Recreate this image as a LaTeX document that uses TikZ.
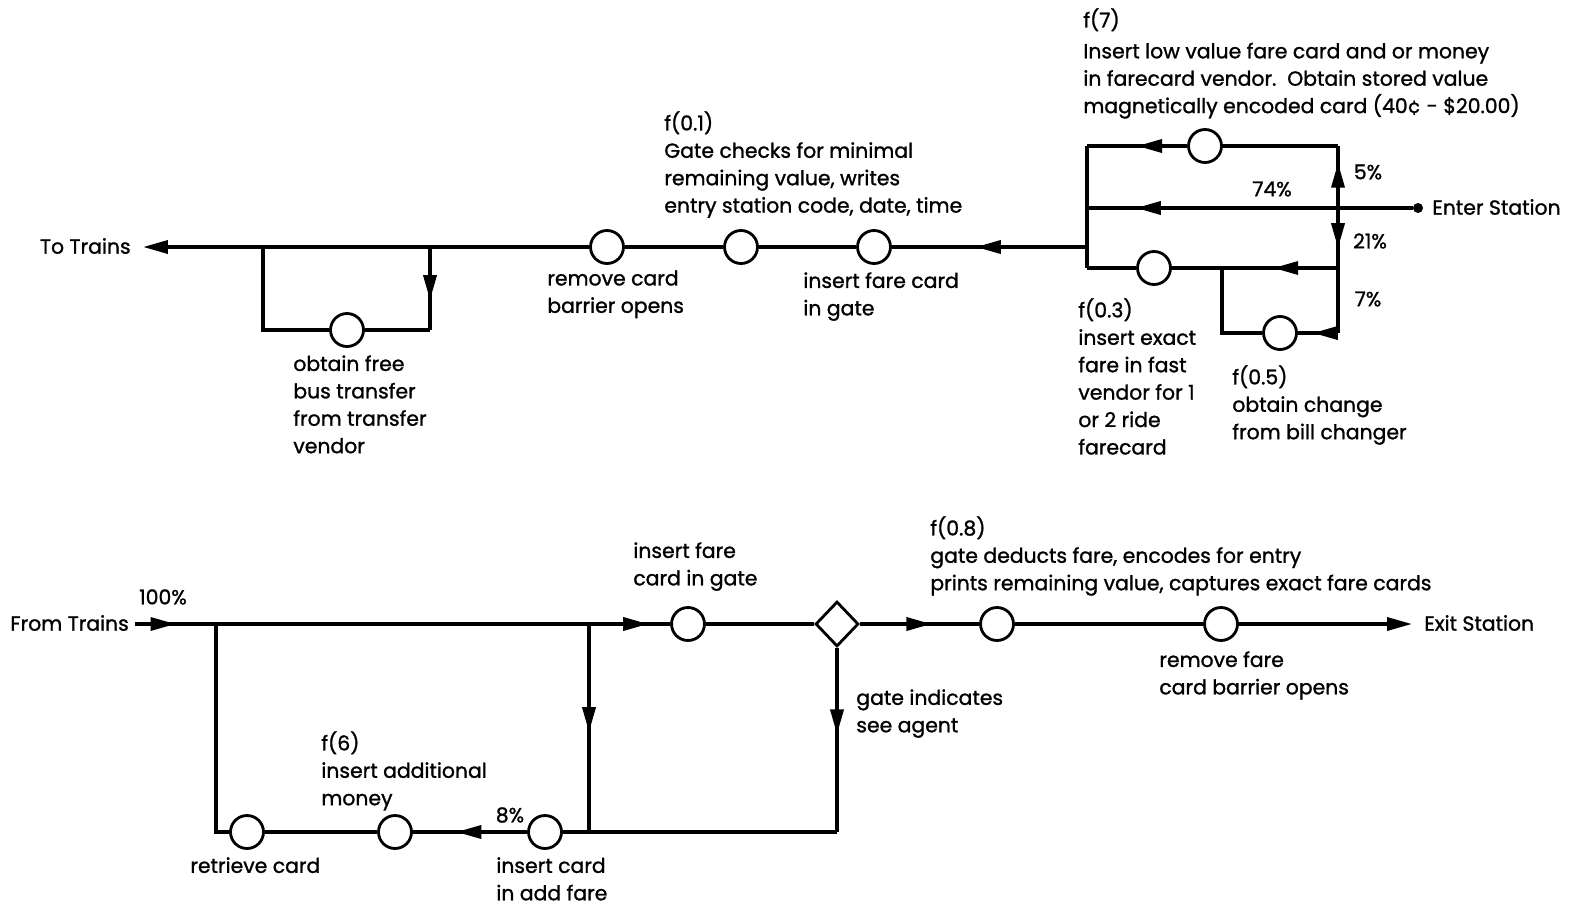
\documentclass[tikz,border=0pt]{standalone}
\usepackage{fontspec}
\setmainfont{Poppins}[FakeBold=1.2]
\usetikzlibrary{arrows.meta,shapes.geometric,decorations.markings}

\begin{document}
\begin{tikzpicture}[x=0.02cm, y=-0.02cm, every node/.style={font=\fontsize{11.6}{15.6}\selectfont}]
  \tikzset{
    stn/.style={circle, draw, fill=white, line width=1.6pt, minimum size=0.66cm, inner sep=0},
    gate/.style={diamond, draw, fill=white, line width=1.6pt, minimum width=0.86cm, minimum height=0.9cm, inner sep=0},
    dot/.style={circle, fill, inner sep=0, minimum size=0.2cm},
    lbl/.style={align=left, inner sep=0, anchor=north west},
    pct/.style={inner sep=0},
    ln/.style={line width=2pt},
    tri/.tip={Triangle[length=0.5cm, width=0.26cm]},
    arr/.style={ln, -tri},
    mid/.style={ln, postaction={decorate}, decoration={markings, mark=at position #1 with {\arrow{tri}}}}
  }
  \useasboundingbox (0,0) rectangle (1574,909);

  % --- entering the station ---
  \coordinate (jT) at (1087,146);
  \coordinate (jM) at (1087,208);
  \coordinate (jL) at (1087,247);
  \coordinate (jB) at (1087,268);
  \coordinate (kT) at (1338,146);
  \coordinate (kM) at (1338,208);
  \coordinate (kB) at (1338,268);
  \coordinate (kD) at (1338,333);
  \coordinate (bD) at (1222,333);
  \coordinate (bU) at (1222,268);
  \node[dot] (esd) at (1418,208) {};
  \node[inner sep=0, anchor=west] (esl) at (1432,207) {Enter Station};
  \node[stn] (f7) at (1205,146) {};
  \node[stn] (fv) at (1154,268) {};
  \node[stn] (bc) at (1280,333) {};

  \node[stn] (ifc) at (874,247) {};
  \node[stn] (gc)  at (741,247) {};
  \node[stn] (rc)  at (607,247) {};
  \coordinate (tR)  at (430,247);
  \coordinate (tL)  at (263,247);
  \coordinate (tRd) at (430,330);
  \coordinate (tLd) at (263,330);
  \node[stn] (tr) at (347,330) {};
  \coordinate (tt) at (143,247);
  \node[inner sep=0, anchor=east] (ttl) at (131,246) {To Trains};

  \draw[ln] (jT) -- (jB);
  \draw[ln] (kT) -- (f7);
  \draw[mid=0.5] (f7) -- (jT);
  \draw[mid=0.85] (esd) -- (jM);
  \draw[mid=0.73] (kM) -- (kT);
  \draw[mid=0.67] (kM) -- (kB);
  \draw[ln] (kB) -- (kD);
  \draw[mid=0.39] (kB) -- (fv);
  \draw[ln] (fv) -- (jB);
  \draw[mid=0.63] (kD) -- (bc);
  \draw[ln] (bc) -- (bD) -- (bU);

  \draw[mid=0.57] (jL) -- (ifc);
  \draw[ln] (ifc) -- (gc) -- (rc);
  \draw[arr] (rc) -- (tt);
  \draw[mid=0.64] (tR) -- (tRd);
  \draw[ln] (tRd) -- (tr) -- (tLd) -- (tL);

  \node[lbl] (f7txt) at (1083,8) {f(7)\\[2pt]Insert low value fare card and or money\\in farecard vendor.\ \ Obtain stored value\\magnetically encoded card (40¢ - \$20.00)};
  \node[pct] (p74) at (1272,189) {74\%};
  \node[pct] (p5)  at (1368,172) {5\%};
  \node[pct] (p21) at (1370,241) {21\%};
  \node[pct] (p7)  at (1368,299) {7\%};
  \node[lbl] (f03txt) at (1078,298) {f(0.3)\\insert exact\\fare in fast\\vendor for 1\\or 2 ride\\farecard};
  \node[lbl] (f05txt) at (1232,365) {f(0.5)\\obtain change\\from bill changer};
  \node[lbl] (f01txt) at (664,111) {f(0.1)\\Gate checks for minimal\\remaining value, writes\\entry station code, date, time};
  \node[lbl] (rctxt)  at (547,270) {remove card\\barrier opens};
  \node[lbl] (ifctxt) at (803,272) {insert fare card\\in gate};
  \node[lbl] (trtxt)  at (293,355) {obtain free\\bus transfer\\from transfer\\vendor};

  % --- leaving the station ---
  \node[inner sep=0, anchor=west] (ftl) at (10,623) {From Trains};
  \coordinate (ft) at (135,624);
  \coordinate (bL) at (216,624);
  \coordinate (bM) at (589,624);
  \node[stn]  (ig) at (688,624) {};
  \node[gate] (dg) at (837,624) {};
  \node[stn]  (dd) at (997,624) {};
  \node[stn]  (rf) at (1221,624) {};
  \coordinate (ex) at (1412,624);
  \node[inner sep=0, anchor=west] (exl) at (1424,623) {Exit Station};
  \coordinate (lL) at (216,832);
  \coordinate (lM) at (589,832);
  \coordinate (lR) at (837,832);
  \node[stn] (rcd) at (247,832) {};
  \node[stn] (am)  at (395,832) {};
  \node[stn] (ic)  at (545,832) {};

  \draw[mid=0.5] (ft) -- (bL);
  \draw[ln] (bL) -- (bM);
  \draw[mid=0.73] (bM) -- (ig);
  \draw[ln] (ig) -- (dg);
  \draw[mid=0.6] (dg) -- (dd);
  \draw[ln] (dd) -- (rf);
  \draw[arr] (rf) -- (ex);
  \draw[mid=0.52] (bM) -- (lM);
  \draw[mid=0.47] (dg) -- (lR);
  \draw[ln] (lR) -- (lM) -- (ic);
  \draw[mid=0.62] (ic) -- (am);
  \draw[ln] (am) -- (rcd) -- (lL) -- (bL);

  \node[pct] (p100) at (163,597) {100\%};
  \node[pct] (p8)   at (510,815) {8\%};
  \node[lbl] (igtxt)  at (633,542) {insert fare\\card in gate};
  \node[lbl] (f08txt) at (930,516) {f(0.8)\\gate deducts fare, encodes for entry\\prints remaining value, captures exact fare cards};
  \node[lbl] (rftxt)  at (1159,651) {remove fare\\card barrier opens};
  \node[lbl] (dgtxt)  at (856,689) {gate indicates\\see agent};
  \node[lbl] (f6txt)  at (321,731) {f(6)\\insert additional\\money};
  \node[lbl] (rcdtxt) at (190,857) {retrieve card};
  \node[lbl] (ictxt)  at (496,857) {insert card\\in add fare};
\end{tikzpicture}
\end{document}
